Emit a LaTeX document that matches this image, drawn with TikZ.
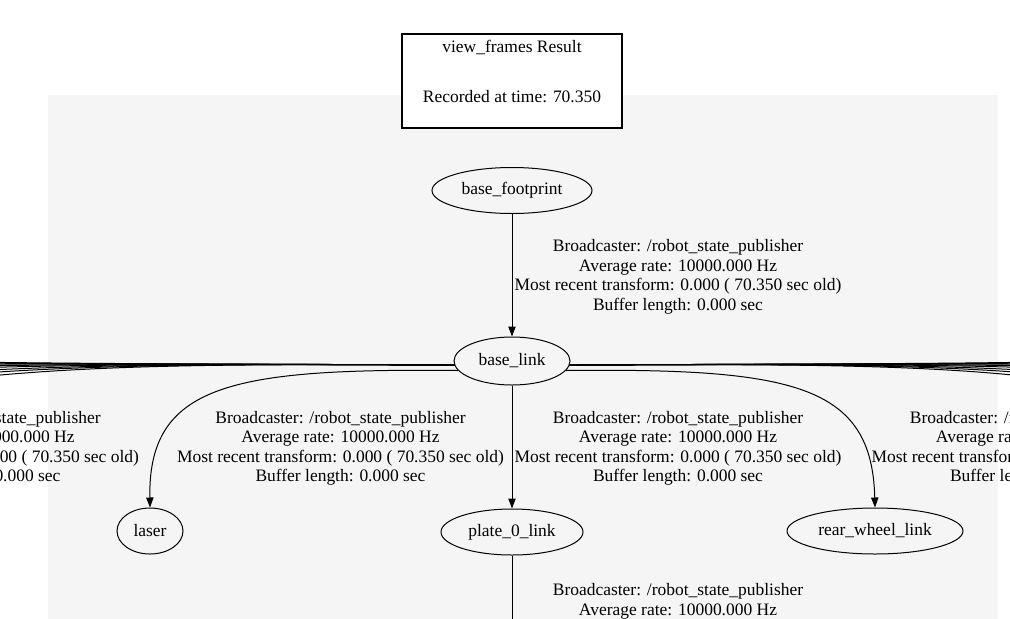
\documentclass[tikz,border=0pt]{standalone}
\usepackage{fontspec}
\setmainfont{Liberation Serif}
\usepackage{xcolor}
\usepackage{tikz}
\usetikzlibrary{shapes.geometric}
\usetikzlibrary{arrows.meta}
\definecolor{bggray}{RGB}{245,245,245}
\newcommand{\gvfont}{\fontsize{13.1pt}{14.6pt}\selectfont}
\newcommand{\tfinfo}{Broadcaster: /robot\_state\_publisher\\Average rate: 10000.000 Hz\\Most recent transform: 0.000 ( 70.350 sec old)\\Buffer length: 0.000 sec}
\tikzset{
	tfframe/.style={draw,ellipse,line width=0.75pt,inner sep=0pt,minimum height=34.5pt,font=\gvfont},
	tfedge/.style={line width=0.75pt,-{Triangle[length=7.5pt,width=5.5pt]}},
	tfbundle/.style={line width=0.75pt},
	tflabel/.style={align=center,inner sep=0pt,font=\gvfont}
}

\begin{document}
\begin{tikzpicture}[x=0.75pt,y=-0.75pt]
	\useasboundingbox (0,0) rectangle (1010,618);
	\clip (0,0) rectangle (1010,618);
	\fill[white] (0,0) rectangle (1010,618);
	\fill[bggray] (48,95) rectangle (998,630);
	% title box
	\node[draw,fill=white,line width=2.2pt,minimum width=165pt,minimum height=70.5pt,inner sep=0pt] (title) at (512,81) {};
	\node[tflabel] (title_name) at (512,47.5) {view\_frames Result};
	\node[tflabel] (title_time) at (512,96.5) {Recorded at time: 70.350};
	% frames
	\node[tfframe,minimum width=120pt] (base_footprint) at (512,190.5) {base\_footprint};
	\node[tfframe,minimum width=87pt,minimum height=36pt] (base_link) at (512,361) {base\_link};
	\node[tfframe,minimum width=49.5pt] (laser) at (150,531) {laser};
	\node[tfframe,minimum width=106.5pt] (plate_0_link) at (512,532) {plate\_0\_link};
	\node[tfframe,minimum width=132pt] (rear_wheel_link) at (875,531) {rear\_wheel\_link};
	\coordinate (plate_out) at (512,660);
	% transforms
	\draw[tfedge] (base_footprint) -- (base_link);
	\draw[tfedge] (base_link.190) .. controls (230,368) and (148,385) .. (laser.north);
	\draw[tfedge] (base_link) -- (plate_0_link);
	\draw[tfedge] (base_link.350) .. controls (794,368) and (872,385) .. (rear_wheel_link.north);
	\draw[tfbundle] (plate_0_link) -- (plate_out);
	% edges to frames outside the view
	\foreach \i/\yy in {1/362,2/363,3/364,4/366,5/368,6/371,7/374,8/378}{
		\coordinate (left_out\i) at (-30,\yy);
		\coordinate (right_out\i) at (1040,\yy);
		\draw[tfbundle] (base_link.184) .. controls (250,364) and (100,364) .. (left_out\i);
		\draw[tfbundle] (base_link.356) .. controls (774,364) and (924,364) .. (right_out\i);
	}
	% labels
	\node[tflabel] (lab_footprint) at (678,277) {\tfinfo};
	\node[tflabel] (lab_left) at (-24.5,448.5) {\tfinfo};
	\node[tflabel] (lab_laser) at (340.5,448.5) {\tfinfo};
	\node[tflabel] (lab_plate) at (678,448.5) {\tfinfo};
	\node[tflabel] (lab_rear) at (1035,448.5) {\tfinfo};
	\node[tflabel] (lab_bottom) at (678,621) {\tfinfo};
\end{tikzpicture}
\end{document}
